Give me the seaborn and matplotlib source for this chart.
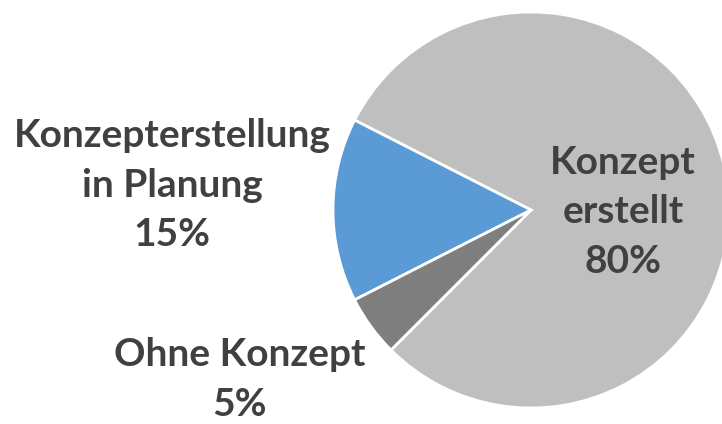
import matplotlib
matplotlib.use('Agg')
import matplotlib.pyplot as plt
import seaborn as sns

## data
labels = ['Konzept\nerstellt', 'Konzepterstellung\nin Planung', 'Ohne Konzept']
shares = [80, 15, 5]
colors = ['#BFBFBF', '#5B9BD5', '#7F7F7F']

sns.set_theme(style='white')
plt.rcParams['font.family'] = ['Lato', 'DejaVu Sans']

fig = plt.figure(figsize=(7.22, 4.24), dpi=100)
ax = fig.add_axes([0, 0, 1, 1])

wedges, _ = ax.pie(shares, colors=sns.color_palette(colors), startangle=-135, counterclock=True,
                   radius=1., wedgeprops={'edgecolor': 'white', 'linewidth': 2.})

# label positions (data coords, pie radius = 1)
label_pos = [(0.465, -0.01), (-1.813, 0.126), (-1.47, -0.855)]
for lab, val, (x, y) in zip(labels, shares, label_pos):
	ax.text(x, y, '{0:s}\n{1:d}%'.format(lab, val), ha='center', va='center',
			fontsize=28, fontweight='bold', color='#404040', linespacing=1.5)

ax.set_xlim(-531/198., (722-531)/198.)
ax.set_ylim(-(424-210)/198., 210/198.)
ax.set_aspect('auto')
ax.axis('off')

fig.savefig('out.png', dpi=100)
